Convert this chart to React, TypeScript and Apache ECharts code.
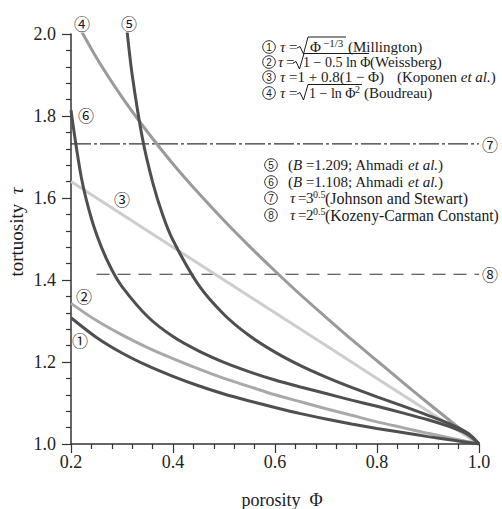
import React, { useEffect, useRef } from "react";
import * as echarts from "echarts";

// porosity grids and tortuosity values
const phiA = [0.2, 0.25, 0.3, 0.35, 0.4, 0.45, 0.5, 0.55, 0.6, 0.65, 0.7, 0.75, 0.8, 0.85, 0.9, 0.95, 1.0];
const tauMillington = [1.308, 1.26, 1.222, 1.191, 1.165, 1.142, 1.122, 1.105, 1.089, 1.074, 1.061, 1.049, 1.038, 1.028, 1.018, 1.009, 1.0];
const tauWeissberg = [1.343, 1.301, 1.266, 1.235, 1.208, 1.183, 1.16, 1.14, 1.12, 1.103, 1.086, 1.07, 1.054, 1.04, 1.026, 1.013, 1.0];
const tauBoudreau = [2.054, 1.942, 1.846, 1.761, 1.683, 1.612, 1.545, 1.482, 1.422, 1.364, 1.309, 1.255, 1.203, 1.151, 1.1, 1.05, 1.0];

const phiKoponen = [0.2, 0.4, 0.6, 0.8, 1.0];
const tauKoponen = [1.64, 1.48, 1.32, 1.16, 1.0];

const phiB1209 = [0.305, 0.31, 0.32, 0.34, 0.36, 0.38, 0.4, 0.45, 0.5, 0.55, 0.6, 0.65, 0.7, 0.75, 0.8, 0.85, 0.9, 0.95, 0.98, 1.0];
const tauB1209 = [2.071, 2.006, 1.9, 1.746, 1.639, 1.558, 1.497, 1.388, 1.316, 1.264, 1.224, 1.191, 1.163, 1.138, 1.115, 1.093, 1.07, 1.045, 1.025, 1.0];

const phiB1108 = [0.2, 0.22, 0.24, 0.26, 0.28, 0.3, 0.35, 0.4, 0.45, 0.5, 0.55, 0.6, 0.65, 0.7, 0.75, 0.8, 0.85, 0.9, 0.95, 0.98, 1.0];
const tauB1108 = [1.814, 1.652, 1.55, 1.479, 1.425, 1.384, 1.311, 1.262, 1.227, 1.199, 1.176, 1.156, 1.139, 1.123, 1.107, 1.092, 1.076, 1.059, 1.039, 1.022, 1.0];

const phiJohnson = [0.2, 1.0];
const tauJohnson = [1.732, 1.732];
const phiKozeny = [0.25, 1.0];
const tauKozeny = [1.414, 1.414];

const xTicks = { min: 0.2, max: 1.0, interval: 0.2 };
const yTicks = { min: 1.0, max: 2.0, interval: 0.2 };

const SERIF = "Liberation Serif";
const SANS = "Liberation Sans";
const CJK = "Noto Sans CJK JP";
const INK = "#1a1a1a";
const FS = 15;

function txt(text: string, x: number, y: number, opts: any = {}) {
  const fontSize = opts.fontSize || FS;
  return {
    type: "text",
    x,
    y,
    z: 10,
    style: {
      text,
      fontFamily: opts.fontFamily || SERIF,
      fontSize,
      fontStyle: opts.italic ? "italic" : "normal",
      fill: INK,
      align: opts.align || "left",
      verticalAlign: "middle",
      lineHeight: opts.lineHeight || Math.min(fontSize, 14),
      rich: opts.rich,
    },
    rotation: opts.rotation || 0,
  };
}
function circ(ch: string, x: number, y: number, size = 16) {
  return txt(ch, x, y, { fontFamily: CJK, fontSize: size, align: "center", lineHeight: size - 1 });
}
// legend marker: a drawn circle holding the digit
function legendNum(d: string, cx: number, cy: number) {
  return [
    { type: "circle", z: 10, shape: { cx, cy, r: 6.3 }, style: { stroke: INK, lineWidth: 0.9, fill: "none" } },
    txt(d, cx, cy + 0.5, { fontFamily: SANS, fontSize: 10, align: "center", lineHeight: 10 }),
  ];
}
function radical(x0: number, yMid: number, xEnd: number, top = 8.5) {
  return {
    type: "polyline",
    z: 10,
    shape: {
      points: [
        [x0, yMid + 1],
        [x0 + 3, yMid - 0.5],
        [x0 + 6.5, yMid + 7],
        [x0 + 11, yMid - top],
        [xEnd, yMid - top],
      ],
    },
    style: { stroke: INK, lineWidth: 1, fill: null },
  };
}
const ital = { i: { fontStyle: "italic", fontFamily: SERIF, fontSize: FS, lineHeight: 14 } };

export default function App() {
  const ref = useRef<HTMLDivElement>(null);
  useEffect(() => {
    const chart = echarts.init(ref.current!, null, { renderer: "svg" });
    const pairs = (xs: number[], ys: number[]) => xs.map((x, i) => [x, ys[i]]);
    const curve = (name: string, xs: number[], ys: number[], color: string, z = 3) => ({
      type: "line",
      name,
      data: pairs(xs, ys),
      smooth: 0.3,
      symbol: "none",
      clip: true,
      z,
      lineStyle: { color, width: 3 },
    });
    const refLine = (name: string, xs: number[], ys: number[], dash: number[], label: string) => ({
      type: "line",
      name,
      data: pairs(xs, ys),
      symbol: "none",
      z: 2,
      lineStyle: { color: "#333", width: 1.2, type: dash },
      endLabel: { show: true, formatter: label, fontFamily: CJK, fontSize: 16, color: INK, distance: 3 },
    });

    const axisCommon = {
      axisLine: { show: true, onZero: false, lineStyle: { color: "#333", width: 1.5 } },
      axisTick: { show: true, length: 9, lineStyle: { color: "#333", width: 1.2 } },
      minorTick: { show: true, splitNumber: 5, length: 5, lineStyle: { color: "#333", width: 1.2 } },
      splitLine: { show: false },
      minorSplitLine: { show: false },
    };

    const graphics: any[] = [
      // curve labels
      circ("④", 82, 23),
      circ("⑤", 129, 23),
      circ("⑥", 86, 115),
      circ("③", 122, 199),
      circ("②", 84, 296),
      circ("①", 80, 340),
      // axis names
      txt("porosity  Φ", 282, 500, { fontSize: 18, align: "center", lineHeight: 20 }),
      txt("tortuosity  {i|τ}", 16, 232, {
        fontSize: 19,
        align: "center",
        lineHeight: 20,
        rotation: Math.PI / 2,
        rich: { i: { fontStyle: "italic", fontFamily: SERIF, fontSize: 19, lineHeight: 20 } },
      }),
      // legend line 1
      ...legendNum("1", 269, 47),
      txt("τ", 280, 47, { italic: true }),
      txt("=", 289, 47),
      radical(297, 47, 346, 10),
      txt("Φ", 310, 47),
      txt("−1/3", 323, 43, { fontSize: 11, lineHeight: 10 }),
      txt("(Millington)", 348, 47),
      // line 2
      ...legendNum("2", 269, 62),
      txt("τ", 278, 62, { italic: true }),
      txt("=", 286, 62),
      radical(293, 62, 369),
      txt("1 − 0.5 ln Φ", 303, 62, { fontSize: 14 }),
      txt("(Weissberg)", 370, 62),
      // line 3
      ...legendNum("3", 269, 77),
      txt("τ", 280, 77, { italic: true }),
      txt("=1 + 0.8(1 − Φ)", 289, 77),
      txt("(Koponen {i|et al.})", 397, 77, { rich: ital }),
      // line 4
      ...legendNum("4", 269, 93),
      txt("τ", 280, 93, { italic: true }),
      txt("=", 289, 93),
      radical(297, 93, 362, 8.5),
      txt("1 − ln Φ", 309, 93, { fontSize: 14 }),
      txt("2", 355, 89, { fontSize: 10, lineHeight: 9 }),
      txt("(Boudreau)", 364, 93),
      // line 5-8
      ...legendNum("5", 271, 165),
      txt("({i|B} =1.209; Ahmadi {i|et al.})", 288, 165, { rich: ital }),
      ...legendNum("6", 271, 182),
      txt("({i|B} =1.108; Ahmadi {i|et al.})", 288, 182, { rich: ital }),
      ...legendNum("7", 271, 198),
      txt("τ", 290, 198, { italic: true }),
      txt("=", 298, 198),
      txt("3", 306, 198),
      txt("0.5", 313, 194, { fontSize: 10, lineHeight: 8 }),
      txt("(Johnson and Stewart)", 325, 198, { fontSize: 16 }),
      ...legendNum("8", 271, 215),
      txt("τ", 290, 215, { italic: true }),
      txt("=", 298, 215),
      txt("2", 306, 215),
      txt("0.5", 313, 211, { fontSize: 10, lineHeight: 8 }),
      txt("(Kozeny-Carman Constant)", 325, 215, { fontSize: 15.7 }),
    ];

    chart.setOption({
      animation: false,
      backgroundColor: "#fff",
      grid: { left: 71, right: 23, top: 34, bottom: 65, containLabel: false },
      xAxis: {
        type: "value",
        ...xTicks,
        ...axisCommon,
        axisLabel: {
          formatter: (v: number) => v.toFixed(1),
          fontFamily: SERIF,
          fontSize: 18,
          color: "#222",
          margin: 9,
        },
      },
      yAxis: {
        type: "value",
        ...yTicks,
        ...axisCommon,
        axisLabel: {
          formatter: (v: number) => v.toFixed(1),
          fontFamily: SERIF,
          fontSize: 18,
          color: "#222",
          margin: 15,
        },
      },
      series: [
        curve("Koponen", phiKoponen, tauKoponen, "#cdcdcd", 3),
        curve("Weissberg", phiA, tauWeissberg, "#a9a9a9", 3),
        curve("Boudreau", phiA, tauBoudreau, "#9a9a9a", 3),
        curve("Millington", phiA, tauMillington, "#4f4f4f", 4),
        curve("Ahmadi B=1.209", phiB1209, tauB1209, "#4f4f4f", 4),
        curve("Ahmadi B=1.108", phiB1108, tauB1108, "#4f4f4f", 4),
        refLine("Johnson and Stewart", phiJohnson, tauJohnson, [20, 3, 3, 3], "⑦"),
        refLine("Kozeny-Carman", phiKozeny, tauKozeny, [13, 8], "⑧"),
      ],
      graphic: graphics,
    });
    return () => chart.dispose();
  }, []);
  return <div ref={ref} style={{ position: "fixed", left: 0, top: 0, width: 502, height: 509 }} />;
}
